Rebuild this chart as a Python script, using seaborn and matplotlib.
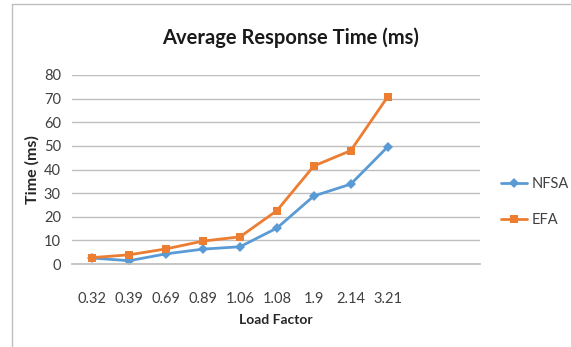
import matplotlib
matplotlib.use("Agg")
import matplotlib.pyplot as plt
import seaborn as sns
import pandas as pd
from matplotlib.lines import Line2D

load_factors = ["0.32", "0.39", "0.69", "0.89", "1.06", "1.08", "1.9", "2.14", "3.21"]
nfsa = [2.5, 1.4, 4.3, 6.3, 7.3, 15.2, 28.8, 33.8, 49.6]
efa = [2.7, 3.9, 6.4, 9.7, 11.5, 22.6, 41.5, 48.0, 70.8]
series_names = ["NFSA", "EFA"]
colors = ["#5B9BD5", "#ED7D31"]
y_ticks = [0, 10, 20, 30, 40, 50, 60, 70, 80]

rows = []
for i, lf in enumerate(load_factors):
    rows.append({"pos": i, "Load Factor": lf, "Series": "NFSA", "Time": nfsa[i]})
    rows.append({"pos": i, "Load Factor": lf, "Series": "EFA", "Time": efa[i]})
df = pd.DataFrame(rows)

sns.set_theme(style="white")
plt.rcParams["font.family"] = ["Lato", "DejaVu Sans"]

fig = plt.figure(figsize=(5.71, 3.47), dpi=100)
ax = fig.add_axes([72 / 571, 1 - 264 / 347, (480 - 72) / 571, (264 - 75) / 347])

sns.lineplot(data=df, x="pos", y="Time", hue="Series", style="Series",
             hue_order=series_names, style_order=series_names,
             palette=colors, markers={"NFSA": "D", "EFA": "s"}, dashes=False,
             markersize=5.5, linewidth=2, markeredgewidth=0, ax=ax, legend=False)

ax.set_xlim(-0.55, 10.5)
ax.set_ylim(0, 80)
ax.set_yticks(y_ticks)
ax.set_yticklabels([str(t) for t in y_ticks], fontsize=10.5, color="#404040")
ax.set_xticks(range(len(load_factors)))
ax.set_xticklabels(load_factors, fontsize=10.5, color="#404040")
ax.tick_params(axis="x", length=0, pad=20)
ax.tick_params(axis="y", length=0, pad=8)
ax.yaxis.grid(True, color="#BFBFBF", linewidth=1)
ax.xaxis.grid(False)
for s in ["top", "right", "left"]:
    ax.spines[s].set_visible(False)
ax.spines["bottom"].set_color("#BFBFBF")
ax.set_axisbelow(True)

ax.set_xlabel("Load Factor", fontsize=10, fontweight="bold", color="#262626", labelpad=6)
ax.set_ylabel("Time (ms)", fontsize=11.5, fontweight="bold", color="#262626", labelpad=3)

fig.text(291 / 571, 1 - 38 / 347, "Average Response Time (ms)", fontsize=14.5,
         fontweight="bold", ha="center", va="center", color="#1a1a1a")

handles = [Line2D([0], [0], color=colors[0], marker="D", markersize=5.5, lw=2, markeredgewidth=0),
           Line2D([0], [0], color=colors[1], marker="s", markersize=5.5, lw=2, markeredgewidth=0)]
fig.legend(handles, series_names, loc="center left", bbox_to_anchor=(501 / 571, 1 - 202 / 347),
           frameon=False, fontsize=10.5, handlelength=1.8, labelspacing=1.55, handletextpad=0.3,
           borderpad=0, borderaxespad=0, labelcolor="#404040")

fig.add_artist(Line2D([12 / 571, 12 / 571], [0, 1 - 4 / 347], transform=fig.transFigure,
                      color="#BFBFBF", lw=1))
fig.add_artist(Line2D([12 / 571, 1], [1 - 4 / 347, 1 - 4 / 347], transform=fig.transFigure,
                      color="#BFBFBF", lw=1))

fig.savefig("out.png", dpi=100)
